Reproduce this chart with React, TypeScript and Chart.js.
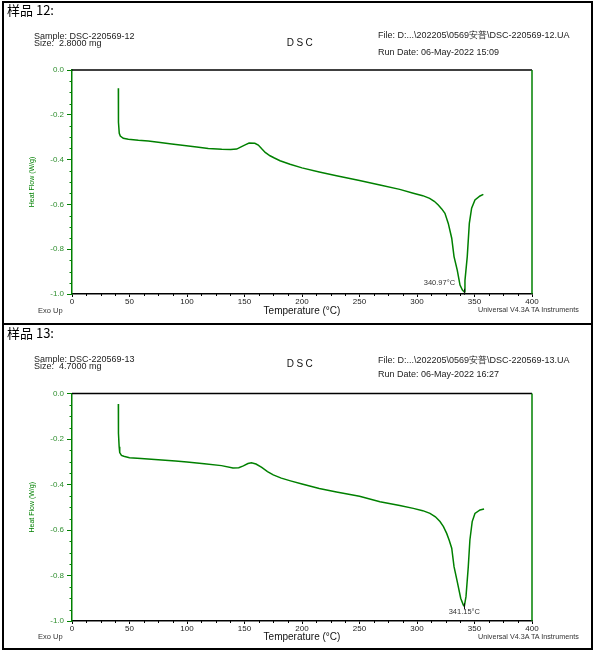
import React, { useEffect, useRef } from 'react';
import { Chart, registerables } from 'chart.js';

Chart.register(...registerables);

const SANS = '"Liberation Sans", Arial, sans-serif';
const CJK = '"Noto Sans CJK SC", "Liberation Sans", sans-serif';
const GREEN = '#008000';
const LABEL_GREEN = '#2f8f2f';

// Axis ticks
const X_TICKS = [0, 50, 100, 150, 200, 250, 300, 350, 400];
const X_TICK_LABELS = ['0', '50', '100', '150', '200', '250', '300', '350', '400'];
const Y_TICKS = [-1.0, -0.8, -0.6, -0.4, -0.2, 0.0];
const Y_TICK_LABELS = ['-1.0', '-0.8', '-0.6', '-0.4', '-0.2', '0.0'];

// Sample DSC-220569-12: temperature (°C) and heat flow (W/g)
const TEMP_12 = [40.3, 40.4, 41.1, 42, 44.6, 49, 57.7, 66.3, 75, 86.7, 94, 108.4, 118.5, 130.2, 138, 143.2, 147, 151, 154, 159, 162, 165, 168, 172.2, 176, 180.9, 189.6, 200, 215, 230, 250, 267.8, 285, 296.8, 305, 311, 315, 318.5, 321.5, 324.3, 327.2, 330.2, 332.2, 335, 337.4, 339.5, 340.97, 341.7, 343.7, 345.5, 347.5, 350.4, 354.8, 357.7];
const FLOW_12 = [-0.082, -0.233, -0.283, -0.295, -0.305, -0.309, -0.314, -0.317, -0.323, -0.330, -0.335, -0.344, -0.350, -0.354, -0.355, -0.353, -0.343, -0.333, -0.326, -0.327, -0.335, -0.352, -0.368, -0.383, -0.393, -0.405, -0.421, -0.437, -0.455, -0.472, -0.493, -0.513, -0.533, -0.550, -0.561, -0.573, -0.586, -0.603, -0.620, -0.640, -0.685, -0.751, -0.833, -0.893, -0.960, -0.982, -0.990, -0.940, -0.833, -0.685, -0.617, -0.580, -0.5625, -0.555];
const PEAK_12 = 340.97;

// Sample DSC-220569-13
const TEMP_13 = [40.3, 40.4, 41, 41.5, 43, 45, 50, 60, 75, 90, 100, 115, 130, 140, 145, 149, 153, 156, 160, 165, 170, 175, 182, 190, 200, 215, 230, 250, 267.8, 285, 296.8, 305, 311.3, 316, 320, 323, 325.8, 328, 330.2, 332.2, 335, 338, 340.3, 341.15, 342.6, 344.6, 346, 348, 350.4, 354.8, 358.3];
const FLOW_13 = [-0.046, -0.175, -0.234, -0.260, -0.272, -0.276, -0.282, -0.286, -0.291, -0.297, -0.301, -0.309, -0.317, -0.327, -0.326, -0.318, -0.308, -0.305, -0.310, -0.325, -0.343, -0.358, -0.372, -0.384, -0.398, -0.418, -0.433, -0.452, -0.476, -0.492, -0.505, -0.515, -0.527, -0.542, -0.563, -0.585, -0.615, -0.645, -0.680, -0.761, -0.827, -0.900, -0.930, -0.935, -0.893, -0.761, -0.644, -0.563, -0.527, -0.512, -0.508];
const PEAK_13 = 341.15;

type PanelConfig = {
  top: number;
  height: number;
  plotTop: number;
  plotBottom: number;
  xTitlePad: number;
  heading: string;
  sample: string;
  size: string;
  file: string;
  runDate: string;
  temps: number[];
  flows: number[];
  peak: number;
  peakLabel: 'left' | 'below';
  text: { heading: number; sample: number; size: number; dsc: number; file: number; run: number; footer: number };
};

const PANELS: PanelConfig[] = [
  {
    top: 0,
    height: 324,
    plotTop: 70,
    plotBottom: 294,
    xTitlePad: 1,
    heading: '样品 12:',
    sample: 'Sample: DSC-220569-12',
    size: 'Size:  2.8000 mg',
    file: 'File: D:...\\202205\\0569安普\\DSC-220569-12.UA',
    runDate: 'Run Date: 06-May-2022 15:09',
    temps: TEMP_12,
    flows: FLOW_12,
    peak: PEAK_12,
    peakLabel: 'left',
    text: { heading: 10, sample: 36, size: 43, dsc: 43, file: 35, run: 52, footer: 310 },
  },
  {
    top: 324,
    height: 326,
    plotTop: 69.5,
    plotBottom: 297,
    xTitlePad: 2,
    heading: '样品 13:',
    sample: 'Sample: DSC-220569-13',
    size: 'Size:  4.7000 mg',
    file: 'File: D:...\\202205\\0569安普\\DSC-220569-13.UA',
    runDate: 'Run Date: 06-May-2022 16:27',
    temps: TEMP_13,
    flows: FLOW_13,
    peak: PEAK_13,
    peakLabel: 'below',
    text: { heading: 9, sample: 35.5, size: 42.7, dsc: 40, file: 36, run: 50, footer: 312.7 },
  },
];

const X_AXIS_HEIGHT = 24;
const Y_AXIS_WIDTH = 72;
const PLOT_RIGHT = 532;
const WIDTH = 596;

function Label(props: { x: number; y: number; size: number; color?: string; family?: string; children: React.ReactNode; center?: boolean; spacing?: number }) {
  const lh = Math.round(props.size * 1.4);
  const style: React.CSSProperties = {
    position: 'absolute',
    top: props.y - lh / 2,
    left: props.center ? props.x - 100 : props.x,
    width: props.center ? 200 : undefined,
    textAlign: props.center ? 'center' : 'left',
    lineHeight: `${lh}px`,
    fontSize: props.size,
    fontFamily: props.family ?? SANS,
    color: props.color ?? '#222',
    whiteSpace: 'pre',
    letterSpacing: props.spacing ? `${props.spacing}px` : undefined,
  };
  return <div style={style}>{props.children}</div>;
}

function Panel({ cfg }: { cfg: PanelConfig }) {
  const ref = useRef<HTMLCanvasElement>(null);

  useEffect(() => {
    const canvas = ref.current;
    if (!canvas) return;
    const points = cfg.temps.map((t, i) => ({ x: t, y: cfg.flows[i] }));
    const peakIndex = cfg.temps.indexOf(cfg.peak);

    // Plot frame (top and right edges) plus minor tick marks
    const framePlugin = {
      id: 'frame',
      afterDraw(chart: any) {
        const { ctx, chartArea: a, scales } = chart;
        ctx.save();
        ctx.lineWidth = 1.5;
        ctx.strokeStyle = '#000';
        ctx.beginPath();
        ctx.moveTo(a.left, a.top);
        ctx.lineTo(a.right, a.top);
        ctx.stroke();
        ctx.strokeStyle = GREEN;
        ctx.beginPath();
        ctx.moveTo(a.right, a.top);
        ctx.lineTo(a.right, a.bottom);
        ctx.stroke();

        ctx.lineWidth = 1;
        ctx.strokeStyle = '#000';
        for (let v = 12.5; v < 400; v += 12.5) {
          if (v % 50 === 0) continue;
          const px = Math.round(scales.x.getPixelForValue(v)) + 0.5;
          ctx.beginPath();
          ctx.moveTo(px, a.bottom);
          ctx.lineTo(px, a.bottom + 2);
          ctx.stroke();
        }
        ctx.strokeStyle = GREEN;
        for (let k = 1; k < 20; k++) {
          if (k % 4 === 0) continue;
          const py = Math.round(scales.y.getPixelForValue(-k * 0.05)) + 0.5;
          ctx.beginPath();
          ctx.moveTo(a.left - 2.5, py);
          ctx.lineTo(a.left, py);
          ctx.stroke();
        }
        ctx.restore();
      },
    };

    // Endotherm peak marker and temperature label
    const peakPlugin = {
      id: 'peakLabel',
      afterDatasetsDraw(chart: any) {
        if (peakIndex < 0) return;
        const { ctx, scales } = chart;
        const px = scales.x.getPixelForValue(cfg.peak);
        const py = scales.y.getPixelForValue(cfg.flows[peakIndex]);
        ctx.save();
        ctx.strokeStyle = '#111';
        ctx.lineWidth = 1;
        ctx.beginPath();
        ctx.moveTo(Math.round(px) + 0.5, py - 3);
        ctx.lineTo(Math.round(px) + 0.5, py + 3);
        ctx.stroke();
        ctx.fillStyle = '#333';
        ctx.font = `7.5px ${SANS}`;
        ctx.textBaseline = 'middle';
        const text = `${cfg.peak.toFixed(2)}°C`;
        if (cfg.peakLabel === 'left') {
          ctx.textAlign = 'right';
          ctx.fillText(text, px - 9, py - 9);
        } else {
          ctx.textAlign = 'center';
          ctx.fillText(text, px, py + 6);
        }
        ctx.restore();
      },
    };

    const chart = new Chart(canvas, {
      type: 'line',
      data: {
        datasets: [
          {
            data: points,
            borderColor: GREEN,
            borderWidth: 1.5,
            pointRadius: 0,
            tension: 0,
            fill: false,
          },
        ],
      },
      options: {
        animation: false,
        responsive: false,
        maintainAspectRatio: false,
        events: [],
        layout: {
          padding: {
            left: 0,
            top: cfg.plotTop,
            right: WIDTH - PLOT_RIGHT,
            bottom: cfg.height - cfg.plotBottom - X_AXIS_HEIGHT,
          },
        },
        plugins: {
          legend: { display: false },
          tooltip: { enabled: false },
        },
        scales: {
          x: {
            type: 'linear',
            min: 0,
            max: 400,
            afterBuildTicks: (s: any) => {
              s.ticks = X_TICKS.map((v) => ({ value: v }));
            },
            afterFit: (s: any) => {
              s.height = X_AXIS_HEIGHT;
            },
            ticks: {
              font: { family: SANS, size: 8 },
              color: '#222',
              padding: 0,
              maxRotation: 0,
              autoSkip: false,
              callback: (v: any) => X_TICK_LABELS[X_TICKS.indexOf(Number(v))] ?? '',
            },
            grid: { drawOnChartArea: false, drawTicks: true, tickLength: 3, tickColor: '#000', tickWidth: 1 },
            border: { color: '#000', width: 1.5 },
            title: {
              display: true,
              text: 'Temperature (°C)',
              font: { family: SANS, size: 10 },
              color: '#111',
              padding: { top: 0, bottom: cfg.xTitlePad },
            },
          },
          y: {
            type: 'linear',
            min: -1,
            max: 0,
            afterBuildTicks: (s: any) => {
              s.ticks = Y_TICKS.map((v) => ({ value: v }));
            },
            afterFit: (s: any) => {
              s.width = Y_AXIS_WIDTH;
            },
            ticks: {
              font: { family: SANS, size: 8 },
              color: LABEL_GREEN,
              padding: 3,
              autoSkip: false,
              callback: (_v: any, i: number) => Y_TICK_LABELS[i] ?? '',
            },
            grid: { drawOnChartArea: false, drawTicks: true, tickLength: 5, tickColor: GREEN, tickWidth: 1 },
            border: { color: GREEN, width: 1.5 },
            title: {
              display: true,
              text: 'Heat Flow (W/g)',
              font: { family: SANS, size: 7 },
              color: GREEN,
              padding: { top: 28, bottom: 0 },
            },
          },
        },
      },
      plugins: [framePlugin, peakPlugin],
    } as any);

    return () => chart.destroy();
  }, [cfg]);

  const t = cfg.text;
  return (
    <div style={{ position: 'absolute', left: 0, top: cfg.top, width: WIDTH, height: cfg.height }}>
      <canvas
        ref={ref}
        width={WIDTH}
        height={cfg.height}
        style={{ position: 'absolute', left: 0, top: 0, width: WIDTH, height: cfg.height }}
      />
      <Label x={7} y={t.heading} size={13} family={CJK} color="#000">{cfg.heading}</Label>
      <Label x={34} y={t.sample} size={9}>{cfg.sample}</Label>
      <Label x={34} y={t.size} size={9}>{cfg.size}</Label>
      <Label x={301} y={t.dsc} size={10} center spacing={2.5} color="#111">DSC</Label>
      <Label x={378} y={t.file} size={9}>{cfg.file}</Label>
      <Label x={378} y={t.run} size={9}>{cfg.runDate}</Label>
      <Label x={38} y={t.footer} size={7.5} color="#333">Exo Up</Label>
      <Label x={478} y={t.footer} size={7.2} color="#333">Universal V4.3A TA Instruments</Label>
    </div>
  );
}

export default function App() {
  return (
    <div style={{ position: 'absolute', left: 0, top: 0, width: WIDTH, height: 652, background: '#fff', overflow: 'hidden' }}>
      {PANELS.map((p) => (
        <Panel key={p.heading} cfg={p} />
      ))}
      <div style={{ position: 'absolute', left: 2, top: 1, width: 591, height: 649, border: '2px solid #000', boxSizing: 'border-box', pointerEvents: 'none' }} />
      <div style={{ position: 'absolute', left: 2, top: 323, width: 591, height: 2, background: '#000' }} />
    </div>
  );
}
